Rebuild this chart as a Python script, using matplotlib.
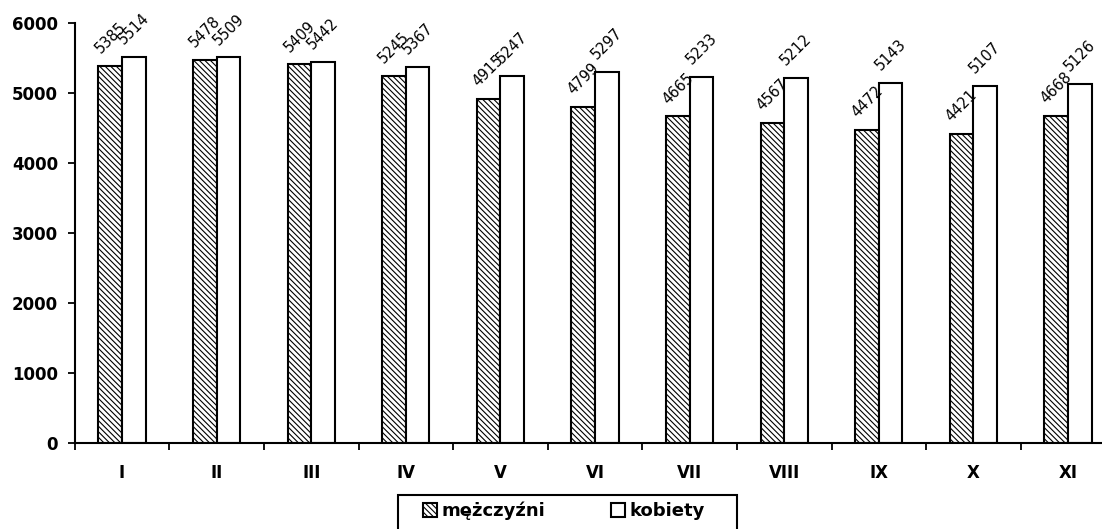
import matplotlib
matplotlib.use("Agg")
import matplotlib.pyplot as plt
from matplotlib.patches import Rectangle
import numpy as np

plt.rcParams['font.family'] = ['DejaVu Sans']
plt.rcParams['hatch.linewidth'] = 0.8

categories = ["I", "II", "III", "IV", "V", "VI", "VII", "VIII", "IX", "X", "XI"]
men = [5385, 5478, 5409, 5245, 4915, 4799, 4665, 4567, 4472, 4421, 4668]
women = [5514, 5509, 5442, 5367, 5247, 5297, 5233, 5212, 5143, 5107, 5126]
series_names = ["mężczyźni", "kobiety"]
yticks = [0, 1000, 2000, 3000, 4000, 5000, 6000]

fig = plt.figure(figsize=(11.02, 5.29), dpi=100)
ax = fig.add_axes([74.7 / 1102, 86 / 529, 1040.6 / 1102, 420 / 529])

x = np.arange(len(categories))
w = 0.25
b1 = ax.bar(x - w / 2, men, width=w, facecolor='white', edgecolor='black',
            hatch='\\\\\\\\\\\\', linewidth=1.5, label=series_names[0])
b2 = ax.bar(x + w / 2, women, width=w, facecolor='white', edgecolor='black',
            linewidth=1.5, label=series_names[1])

for bars, vals in ((b1, men), (b2, women)):
    for r, v in zip(bars, vals):
        ax.annotate(str(v), (r.get_x() + r.get_width() / 2, v),
                    xytext=(0, 7), textcoords='offset points',
                    rotation=45, ha='center', va='bottom', fontsize=10.5)

ax.set_xlim(-0.5, len(categories) - 0.5)
ax.set_ylim(0, 6000)
ax.set_yticks(yticks)
ax.set_yticklabels([str(t) for t in yticks], fontsize=12, fontweight='bold')
ax.set_xticks(x)
ax.set_xticklabels(categories, fontsize=12, fontweight='bold')
ax.set_xticks(np.arange(len(categories)) - 0.5, minor=True)
ax.tick_params(axis='x', which='major', length=0, pad=15)
ax.tick_params(axis='x', which='minor', length=5, width=1.3, direction='out')
ax.tick_params(axis='y', length=5, width=1.3, direction='out', pad=7)

for s in ('top', 'right'):
    ax.spines[s].set_visible(False)
for s in ('left', 'bottom'):
    ax.spines[s].set_linewidth(1.5)

leg = fig.legend(handles=[b1, b2], labels=series_names, loc='upper left',
                 bbox_to_anchor=(423 / 1102, 1 - 502 / 529), ncol=2,
                 frameon=False,
                 prop={'size': 13, 'weight': 'bold'},
                 handlelength=0.8, handleheight=0.8, handletextpad=0.25,
                 columnspacing=3.6, borderpad=0.0, borderaxespad=0)
fig.patches.append(Rectangle((398 / 1102, -0.05), (737 - 398) / 1102,
                             1 - 495 / 529 + 0.05, transform=fig.transFigure,
                             facecolor='none', edgecolor='black', linewidth=1.5,
                             figure=fig))

fig.savefig("out.png", dpi=100)
